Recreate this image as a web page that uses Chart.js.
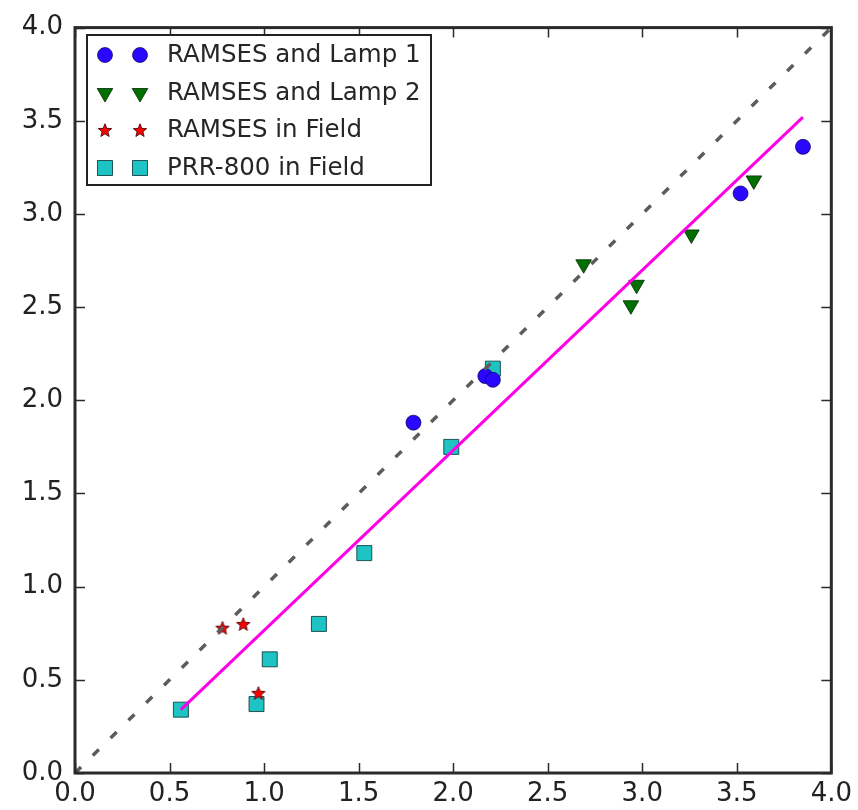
<!DOCTYPE html>
<html>
<head>
<meta charset="utf-8">
<script src="https://cdn.jsdelivr.net/npm/chart.js@4.4.1/dist/chart.umd.min.js"></script>
<style>
  html, body { margin: 0; padding: 0; background: #fff; }
  #wrap { width: 858px; height: 810px; }
</style>
</head>
<body>
<div id="wrap"><canvas id="chart"></canvas></div>
<script>
// Measurements
const lamp1X = [1.79, 2.17, 2.21, 3.52, 3.85];
const lamp1Y = [1.88, 2.13, 2.11, 3.11, 3.36];
const lamp2X = [2.69, 2.94, 2.97, 3.26, 3.59];
const lamp2Y = [2.73, 2.51, 2.62, 2.89, 3.18];
const fieldX = [0.78, 0.89, 0.97];
const fieldY = [0.78, 0.80, 0.43];
const prrX = [0.56, 0.96, 1.03, 1.29, 1.53, 1.99, 2.21];
const prrY = [0.34, 0.37, 0.61, 0.80, 1.18, 1.75, 2.17];

// Reference 1:1 line and the fitted line (end points)
const oneToOneX = [0, 4];
const oneToOneY = [0, 4];
const fitX = [0.56, 3.85];
const fitY = [0.34, 3.52];

const tickValues = [0, 0.5, 1, 1.5, 2, 2.5, 3, 3.5, 4];
const legendLabels = ['RAMSES and Lamp 1', 'RAMSES and Lamp 2', 'RAMSES in Field', 'PRR-800 in Field'];

const FONT = 'DejaVu Sans';
const TICK_LEN = 10;

const pts = (xs, ys) => xs.map((v, i) => ({ x: v, y: ys[i] }));

// filled five-point star, Chart.js only has an asterisk
function makeStar(outer, inner) {
    const c = document.createElement('canvas');
    const s = Math.ceil(outer * 2 + 4);
    c.width = s; c.height = s;
    const g = c.getContext('2d');
    g.translate(s / 2, s / 2 + 0.8);
    g.beginPath();
    for (let i = 0; i < 10; i++) {
        const r = i % 2 ? inner : outer;
        const a = -Math.PI / 2 + i * Math.PI / 5;
        g.lineTo(Math.cos(a) * r, Math.sin(a) * r);
    }
    g.closePath();
    g.fillStyle = '#ff0000';
    g.fill();
    g.lineWidth = 1;
    g.strokeStyle = '#5a1010';
    g.stroke();
    return c;
}
const starImg = makeStar(7, 3);

const markerSets = [
    { label: legendLabels[0], data: pts(lamp1X, lamp1Y), pointStyle: 'circle', pointRadius: 7.5,
      backgroundColor: '#2a08ff', borderColor: 'rgba(10,0,80,0.7)', borderWidth: 1 },
    { label: legendLabels[1], data: pts(lamp2X, lamp2Y), pointStyle: 'triangle', rotation: 180, pointRadius: 9,
      backgroundColor: '#007000', borderColor: 'rgba(0,40,0,0.8)', borderWidth: 1 },
    { label: legendLabels[2], data: pts(fieldX, fieldY), pointStyle: starImg, pointRadius: 7,
      backgroundColor: '#ff0000', borderColor: '#5a1010', borderWidth: 1 },
    { label: legendLabels[3], data: pts(prrX, prrY), pointStyle: 'rect', pointRadius: 10.6,
      backgroundColor: '#1ec3c3', borderColor: 'rgba(0,50,50,0.8)', borderWidth: 1 }
];
markerSets.forEach(d => {
    d.showLine = false;
    d.pointHoverRadius = d.pointRadius;
    d.pointBackgroundColor = d.backgroundColor;
    d.pointBorderColor = d.borderColor;
    d.pointBorderWidth = d.borderWidth;
    d.pointRotation = d.rotation || 0;
});

// lines first so they paint over the markers
const datasets = [
    { label: 'fit', data: pts(fitX, fitY), showLine: true, pointRadius: 0,
      borderColor: '#ff00e6', borderWidth: 3 },
    { label: '1:1', data: pts(oneToOneX, oneToOneY), showLine: true, pointRadius: 0,
      borderColor: '#5c5c5c', borderWidth: 3.5, borderDash: [8.5, 16.5] },
    ...markerSets
];

// box frame with inward ticks on every side
const frameTicks = {
    id: 'frameTicks',
    afterDatasetsDraw(chart) {
        const { ctx, chartArea: a, scales: { x, y } } = chart;
        ctx.save();
        ctx.strokeStyle = '#2a2a2a';
        ctx.lineWidth = 1.5;
        ctx.beginPath();
        tickValues.forEach(v => {
            const px = Math.round(x.getPixelForValue(v)) + 0.5;
            const py = Math.round(y.getPixelForValue(v)) + 0.5;
            ctx.moveTo(px, a.bottom); ctx.lineTo(px, a.bottom - TICK_LEN);
            ctx.moveTo(px, a.top); ctx.lineTo(px, a.top + TICK_LEN);
            ctx.moveTo(a.left, py); ctx.lineTo(a.left + TICK_LEN, py);
            ctx.moveTo(a.right, py); ctx.lineTo(a.right - TICK_LEN, py);
        });
        ctx.stroke();
        ctx.lineWidth = 3;
        ctx.strokeRect(a.left, a.top, a.right - a.left, a.bottom - a.top);
        ctx.restore();
    }
};

// legend with two markers per entry
const pairLegend = {
    id: 'pairLegend',
    afterDraw(chart) {
        const ctx = chart.ctx;
        const box = { left: 87, top: 35, right: 431, bottom: 185 };
        const rowY = [55, 93, 130, 168];
        ctx.save();
        ctx.fillStyle = '#fff';
        ctx.fillRect(box.left, box.top, box.right - box.left, box.bottom - box.top);
        ctx.strokeStyle = '#222';
        ctx.lineWidth = 2;
        ctx.strokeRect(box.left, box.top, box.right - box.left, box.bottom - box.top);
        markerSets.forEach((d, i) => {
            const opts = {
                pointStyle: d.pointStyle, radius: d.pointRadius, rotation: d.pointRotation,
                borderWidth: d.borderWidth
            };
            ctx.fillStyle = d.backgroundColor;
            ctx.strokeStyle = d.borderColor;
            ctx.lineWidth = d.borderWidth;
            [105, 140].forEach(mx => Chart.helpers.drawPoint(ctx, opts, mx, rowY[i]));
            ctx.fillStyle = '#262626';
            ctx.font = '24.5px "' + FONT + '"';
            ctx.textBaseline = 'middle';
            ctx.textAlign = 'left';
            ctx.fillText(d.label, 167, rowY[i] + 1);
        });
        ctx.restore();
    }
};

new Chart(document.getElementById('chart'), {
    type: 'scatter',
    data: { datasets },
    options: {
        responsive: true,
        maintainAspectRatio: false,
        animation: false,
        layout: { padding: { top: 23, right: 25, left: 0, bottom: 0 } },
        plugins: {
            legend: { display: false },
            tooltip: { enabled: false }
        },
        scales: {
            x: {
                type: 'linear', min: 0, max: 4,
                afterFit: s => { s.height = 37; },
                afterBuildTicks: s => { s.ticks = tickValues.map(v => ({ value: v })); },
                grid: { display: false, drawTicks: false },
                border: { display: false },
                ticks: {
                    padding: 6, color: '#222', font: { family: FONT, size: 26 },
                    maxRotation: 0, callback: v => v.toFixed(1)
                }
            },
            y: {
                type: 'linear', min: 0, max: 4,
                afterFit: s => { s.width = 75; },
                afterBuildTicks: s => { s.ticks = tickValues.map(v => ({ value: v })); },
                grid: { display: false, drawTicks: false },
                border: { display: false },
                ticks: {
                    padding: 12, color: '#222', font: { family: FONT, size: 26 },
                    callback: v => v.toFixed(1)
                }
            }
        }
    },
    plugins: [frameTicks, pairLegend]
});
</script>
</body>
</html>
